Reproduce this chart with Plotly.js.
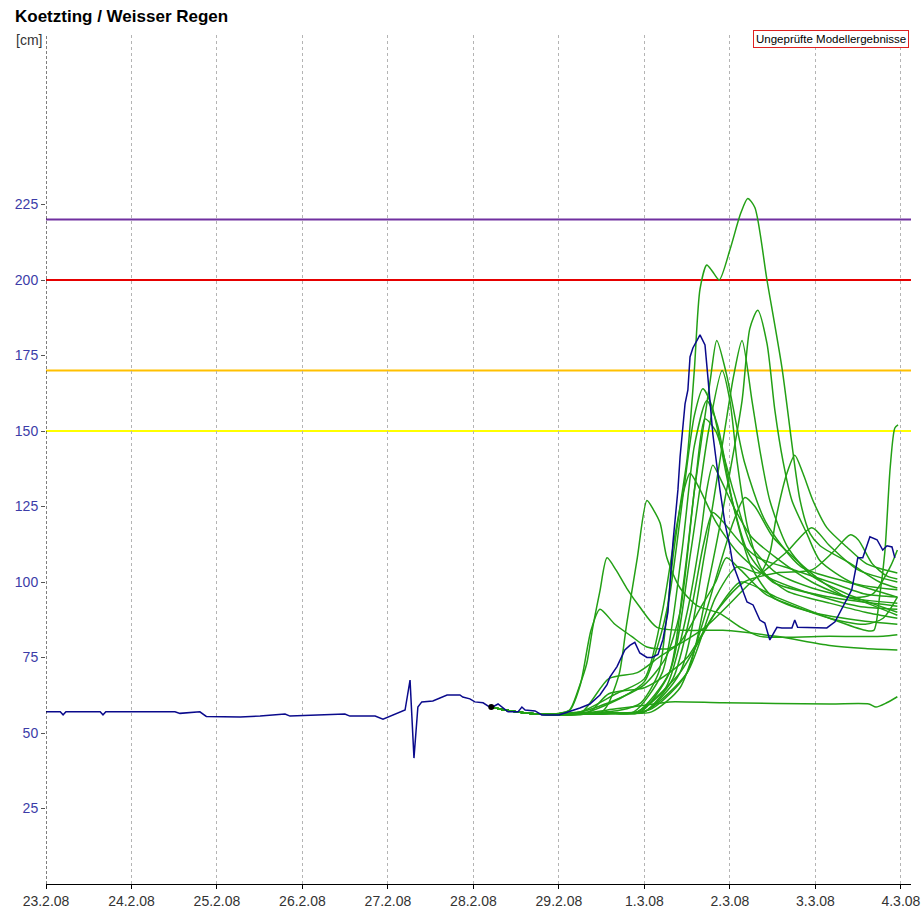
<!DOCTYPE html>
<html><head><meta charset="utf-8">
<script src="https://cdn.plot.ly/plotly-3.0.1.min.js"></script>
<style>html,body{margin:0;padding:0;background:#fff}#chart{width:922px;height:909px}</style>
</head><body><div id="chart"></div>
<script>
// ---------- texts ----------
const chartTitle = 'Koetzting / Weisser Regen';
const unitLabel = '[cm]';
const noteLabel = 'Ungeprüfte Modellergebnisse';

// ---------- axes ----------
const xTickDates = ['2008-02-23','2008-02-24','2008-02-25','2008-02-26','2008-02-27','2008-02-28','2008-02-29','2008-03-01','2008-03-02','2008-03-03','2008-03-04'];
const xTickLabels = ['23.2.08','24.2.08','25.2.08','26.2.08','27.2.08','28.2.08','29.2.08','1.3.08','2.3.08','3.3.08','4.3.08'];
const yTicks = [25,50,75,100,125,150,175,200,225];

// ---------- threshold levels [cm] ----------
const thresholdLevels = [220,200,170,150];

// ---------- observed water level (hours after 23.2.08 00:00) ----------
const obsHours = [0,4.0,4.8,5.6,15.2,16,16.8,36.2,37.6,43.2,45,54.5,60.1,67.1,68.5,83.9,85.3,92.4,94.6,96.6,98.8,100.8,102.2,103.3,104.4,105.5,108.6,110.6,112.6,116.2,117.0,119.0,120.4,122.7,124.9,126.9,128.3,129.7,132.5,133.6,134.5,137.3,139.2,144.0,149.9,152.7,155.5,157.5,158.3,160.3,162.5,163.9,165.3,166.7,168.7,170.1,171.8,173.2,174.6,176.0,177.4,178.0,179.4,180.2,180.8,181.6,183.6,185.0,185.8,187.2,189.2,190.6,192.0,192.8,194.8,196.8,198.5,200.4,201.8,203.2,205.2,206.6,209.4,210.2,211.0,215.3,219.2,221.5,223.7,226.2,227.9,229.3,231.3,233.3,234.9,236.1,237.5,238.3];
const obsLevels = [57,57,56,57,57,56,57,57,56.5,57,55.5,55.3,55.6,56.3,55.6,56.3,55.6,55.6,54.6,55.6,56.6,57.6,67.5,41.7,58.6,60.3,60.6,61.6,62.6,62.6,61.9,61.3,60.3,60,58.3,59.6,58.3,57,57,58.6,57.6,57.3,56,56,58.3,59.6,62.6,66,68.5,72,77.5,79,80,76.5,75,75,76,81,90,113,130.5,141.4,159,163.6,174.5,177.5,181.8,178.5,168,149,130.5,119.5,111.6,106,99.7,93.4,92.4,87.4,86.4,80.8,85,84.8,84.8,87.4,85,84.8,84.8,86.8,91.7,97.4,108,108,115,114,110.6,112,111.6,108];

// ---------- forecast start ----------
const forecastStartHour = 5;      // hours after 28.2.08 00:00
const forecastStartLevel = 58.6;

// ---------- ensemble members (hours after 28.2.08 00:00 / level cm) ----------
const e01H = [5,8,18,30,41,47,52,54,56,58,60,62,63.6,65.5,67,69,72,75,77,79,82.4,86.6,91.7,94.5,97.3,106,114,119];
const e01V = [58.6,57.8,56.3,56.5,57.5,60,70,86,108,125,141,170,197,205,203,200,210,222,227,224,200,171,127,116,112,106,100,98];
const e02H = [5,8,18,40,50,60,66,71,75.4,77.6,79.8,82.4,84.6,86.9,89.4,93.6,97.3,106.5,119];
const e02V = [58.6,57.8,56.3,56.5,58,70,100,130,160,184,190,179,157,140,127,116,107,99.7,97.4];
const e03H = [5,8,18,30,40,48,54,58,62,66.5,68.3,71,76,82,92,105,119];
const e03V = [58.6,57.8,56.3,57,61,66,75,90,130,167,180,169,140,120,105,100,95];
const e04H = [5,8,18,40,48,58,65,70.5,73,75.4,78.2,80.4,83.2,88,95,105,119];
const e04V = [58.6,57.8,56.3,56.5,57,70,110,150,168,180,160,143.7,127,112,102,96,90];
const e05H = [5,8,18,38,46,55,61,66,69.8,72,74,77,81,88,100,110,119];
const e05V = [58.6,57.8,56.3,56.5,57,70,110,150,170,160,140,118,104,97,93,90,88];
const e06H = [5,8,18,32,42,48,52,55,59,62,64.4,67,72,77,84,100,119];
const e06V = [58.6,57.8,56.3,57,62,67,80,95,130,155,164,158,130,110,100,95,92];
const e07H = [5,8,18,37,45,53,58.5,62,65.5,68.5,73,78,84,95,110,119];
const e07V = [58.6,57.8,56.3,56.5,57,70,110,145,160,152,125,105,95,90,87,86];
const e08H = [5,8,18,39,47,55,59,62.5,65,68,73,78,85,95,108,119];
const e08V = [58.6,57.8,56.3,56.5,57,70,100,135,154,150,130,112,103,98,94,89];
const e09H = [5,8,18,40,48,60,68,74,80.4,83.2,85,88,90.2,92.5,95.3,99.2,104.8,110.4,119];
const e09V = [58.6,57.8,56.3,56.5,57,70,95,105,103,109.6,121.5,136,142,136,127,118,111.6,106,103];
const e10H = [5,8,18,30,40,48,53,56.5,59,60.8,63,68,74,82,95,108,119];
const e10V = [58.6,57.8,56.3,57,63,68,90,115,130,136,132,120,110,102,96,92,91];
const e11H = [5,8,18,38,46,54,60,63.6,65.5,67.2,69,73,78,85,95,105,119];
const e11V = [58.6,57.8,56.3,56.5,57,65,90,114,130.5,138.7,135,125,115,108,100,95,93];
const e12H = [5,8,18,40,48,56,61,64.5,67.2,70,75,80,90,100,110,119];
const e12V = [58.6,57.8,56.3,56.5,57,68,90,112,123,120,113,108,104,100,96,95];
const e13H = [5,8,18,30,36,38,41,43,46,48.7,50.5,52.4,54.3,58,63,69,75,80.4,100,115,119];
const e13V = [58.6,57.8,56.3,56.5,57,60,70,86,108,127,124,119.5,108,98,92,89.7,85,82,82,82,82.5];
const e14H = [5,8,18,24,27,29.9,31.8,33.5,35.5,37.5,40,43,46.7,51.5,60,70,85,100,110,119];
const e14V = [58.6,57.8,56.3,56.5,57.6,66,73,85,97,108,104,98,91.7,85,84,84,82,79,78,77.5];
const e15H = [5,8,18,24,27,30,33,35.5,39.7,44.4,48.7,55,65,78,88,95,100,108,119];
const e15V = [58.6,57.8,56.3,56.5,57.5,66,84,91,86,82,78.5,78,85,100,110,118,112,104,100];
const e16H = [5,8,18,30,40,50,55,70,100,111,113,116,119];
const e16V = [58.6,57.8,56.3,56.5,58,59.5,60.3,60,59.6,59.6,58.6,60,62];
const e17H = [5,8,18,38,46,58,68,75,85,100,110,112.4,114,115.5,117,118.3,119.2];
const e17V = [58.6,57.8,56.3,56.5,57,70,90,100,95,88,84,84,95,110,138,151,152];
const e18H = [5,8,18,42,50,58,64,69,73,76.2,79,84,90,98,105,112,117,119];
const e18V = [58.6,57.8,56.3,56.5,57,65,85,105,120,128,125,115,108,100,95,96,105,110.6];
const e19H = [5,8,18,32,38,48,55,60,68,76,85,95,101,105.7,108,112,116,119];
const e19V = [58.6,57.8,56.3,56.5,63,65,70,75,90,100,103,104,110,115.6,114,106,102,101];
const e20H = [5,8,18,30,38,46,52,58,64,68,71,75,82,90,100,110,115,119];
const e20V = [58.6,57.8,56.3,56.5,68,70,75,80,92,100,108,104,96,92,88,86,88,95];

const memberHours = [e01H,e02H,e03H,e04H,e05H,e06H,e07H,e08H,e09H,e10H,e11H,e12H,e13H,e14H,e15H,e16H,e17H,e18H,e19H,e20H];
const memberLevels = [e01V,e02V,e03V,e04V,e05V,e06V,e07V,e08V,e09V,e10V,e11V,e12V,e13V,e14V,e15V,e16V,e17V,e18V,e19V,e20V];

// ---------- helpers ----------
const OBS_BASE = Date.UTC(2008,1,23,0,0,0);
const ENS_BASE = Date.UTC(2008,1,28,0,0,0);
function toDate(base, h){
  return new Date(base + h*3600000).toISOString().slice(0,19).replace('T',' ');
}

const FONT = 'Liberation Sans, Arial, sans-serif';
const GREEN = '#23a015';
const BLUE = '#0a0a8c';
const thresholdColors = ['#7030a0','#e60000','#ffc000','#ffff00'];

const traces = [];
memberHours.forEach((hs, i) => {
  const vs = memberLevels[i];
  const n = Math.min(hs.length, vs.length);
  traces.push({
    type:'scatter', mode:'lines',
    x: hs.slice(0,n).map(h => toDate(ENS_BASE, h)),
    y: vs.slice(0,n),
    line:{color:GREEN, width:1.5, shape:'spline', smoothing:0.7},
    hoverinfo:'skip', showlegend:false
  });
});
const nObs = Math.min(obsHours.length, obsLevels.length);
traces.push({
  type:'scatter', mode:'lines',
  x: obsHours.slice(0,nObs).map(h => toDate(OBS_BASE, h)),
  y: obsLevels.slice(0,nObs),
  line:{color:BLUE, width:1.5},
  hoverinfo:'skip', showlegend:false
});
traces.push({
  type:'scatter', mode:'markers',
  x:[toDate(ENS_BASE, forecastStartHour)], y:[forecastStartLevel],
  marker:{color:'#000', size:6},
  hoverinfo:'skip', showlegend:false
});

const shapes = thresholdLevels.map((lv, i) => ({
  type:'line', xref:'paper', x0:0, x1:1, yref:'y', y0:lv, y1:lv,
  line:{color:thresholdColors[i], width:2}, layer:'below'
}));
shapes.push({
  type:'line', xref:'x', x0:xTickDates[0], x1:xTickDates[0], yref:'paper', y0:0, y1:1,
  line:{color:'#000', width:1, dash:'3px,2px'}
});

const layout = {
  width:922, height:909,
  margin:{l:46, r:11, t:35, b:25},
  paper_bgcolor:'#fff', plot_bgcolor:'#fff',
  showlegend:false,
  title:{text:chartTitle, x:15/922, xanchor:'left', xref:'container', y:1-16.5/909, yanchor:'middle', yref:'container',
         font:{family:FONT, size:17, color:'#000', weight:'bold'}},
  xaxis:{
    type:'date', range:['2008-02-23 00:00','2008-03-04 02:50'],
    tickvals:xTickDates, ticktext:xTickLabels,
    tickfont:{family:FONT, size:14, color:'#333'},
    ticks:'outside', ticklen:4, tickcolor:'#000',
    showgrid:true, gridcolor:'#b4b4b4', griddash:'3px,3px', gridwidth:1,
    showline:true, linecolor:'#000', linewidth:1,
    zeroline:false, fixedrange:true
  },
  yaxis:{
    range:[0, 849/3.02],
    tickvals:yTicks, ticktext:yTicks.map(String),
    tickfont:{family:FONT, size:14, color:'#3c3ca8'},
    ticks:'outside', ticklen:4, tickcolor:'#555',
    showgrid:false, showline:false, zeroline:false, fixedrange:true
  },
  shapes:shapes,
  annotations:[
    {text:unitLabel, xref:'paper', yref:'paper', x:0, y:1, xanchor:'right', yanchor:'middle', xshift:-2, yshift:-5,
     showarrow:false, font:{family:FONT, size:14, color:'#333'}},
    {text:noteLabel, xref:'paper', yref:'paper', x:1, y:1, xanchor:'right', yanchor:'middle', xshift:-2, yshift:-4,
     showarrow:false, font:{family:FONT, size:11.5, color:'#000'}, bordercolor:'#e02020', borderwidth:1, borderpad:2, bgcolor:'#fff'}
  ]
};

Plotly.newPlot('chart', traces, layout, {displayModeBar:false, staticPlot:true});
</script>
</body></html>
